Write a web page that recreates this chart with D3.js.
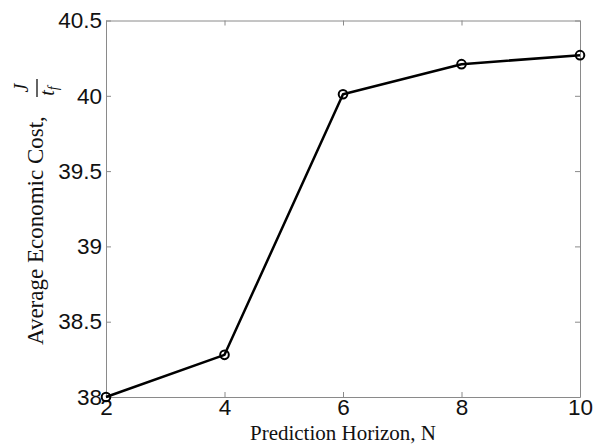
<!DOCTYPE html>
<html>
<head>
<meta charset="utf-8">
<script src="https://cdn.jsdelivr.net/npm/d3@7"></script>
<style>
  body { margin: 0; background: #fff; }
  svg { display: block; }
</style>
</head>
<body>
<svg id="chart" width="595" height="444"></svg>
<script>
// prediction horizon vs average economic cost
const horizon = [2, 4, 6, 8, 10];
const avgCost = [38.0, 38.28, 40.01, 40.21, 40.27];
const xTicks = [2, 4, 6, 8, 10];
const yTicks = [38, 38.5, 39, 39.5, 40, 40.5];

const svg = d3.select("#chart");
const width = 595;
const height = 444;
const margin = { top: 20.5, right: 15, bottom: 47, left: 106 };

const x = d3.scaleLinear().domain([2, 10]).range([margin.left, width - margin.right]);
const y = d3.scaleLinear().domain([38, 40.5]).range([height - margin.bottom, margin.top]);

const AXIS_GREY = "#8a8a8a";
const serif = "'Liberation Serif', 'Times New Roman', serif";

function styleAxis(g) {
  g.attr("font-family", null);
  g.select(".domain").attr("stroke", AXIS_GREY).attr("stroke-width", 1);
  g.selectAll(".tick line").attr("stroke", AXIS_GREY).attr("stroke-width", 1);
  g.selectAll(".tick text")
    .attr("fill", "#111")
    .style("font-family", "'Liberation Sans', Arial, sans-serif")
    .style("font-size", "22.5px");
}

// bottom + left with labels, top + right only ticks (matlab box)
svg.append("g")
  .attr("transform", `translate(0,${y(38)})`)
  .call(d3.axisBottom(x).tickValues(xTicks).tickSizeInner(-5).tickSizeOuter(0).tickPadding(2.5))
  .call(styleAxis);

svg.append("g")
  .attr("transform", `translate(${x(2)},0)`)
  .call(d3.axisLeft(y).tickValues(yTicks).tickFormat((d) => String(d)).tickSizeInner(-5).tickSizeOuter(0).tickPadding(4))
  .call(styleAxis);

svg.append("g")
  .attr("transform", `translate(0,${y(40.5)})`)
  .call(d3.axisTop(x).tickValues(xTicks).tickFormat("").tickSizeInner(-5).tickSizeOuter(0))
  .call(styleAxis);

svg.append("g")
  .attr("transform", `translate(${x(10)},0)`)
  .call(d3.axisRight(y).tickValues(yTicks).tickFormat("").tickSizeInner(-5).tickSizeOuter(0))
  .call(styleAxis);

const pts = horizon.map((h, i) => ({ h: h, c: avgCost[i] }));

const line = d3.line().x((d) => x(d.h)).y((d) => y(d.c));

svg.append("path")
  .datum(pts)
  .attr("d", line)
  .attr("fill", "none")
  .attr("stroke", "#000")
  .attr("stroke-width", 2.5)
  .attr("stroke-linejoin", "round");

svg.selectAll("circle.pt")
  .data(pts)
  .enter()
  .append("circle")
  .attr("class", "pt")
  .attr("cx", (d) => x(d.h))
  .attr("cy", (d) => y(d.c))
  .attr("r", 4.3)
  .attr("fill", "none")
  .attr("stroke", "#000")
  .attr("stroke-width", 2);

// x label
svg.append("text")
  .attr("x", (x(2) + x(10)) / 2)
  .attr("y", 439.5)
  .attr("text-anchor", "middle")
  .style("font-family", serif)
  .style("font-size", "21px")
  .attr("fill", "#111")
  .text("Prediction Horizon, N");

// y label with the J / t_f fraction
const yl = svg.append("g").attr("transform", "translate(43,0) rotate(-90)");

yl.append("text")
  .attr("x", -345)
  .attr("y", 0)
  .style("font-family", serif)
  .style("font-size", "23px")
  .attr("fill", "#111")
  .text("Average Economic Cost,");

yl.append("line")
  .attr("x1", -97)
  .attr("x2", -79)
  .attr("y1", -6)
  .attr("y2", -6)
  .attr("stroke", "#111")
  .attr("stroke-width", 1.3);

yl.append("text")
  .attr("x", -88)
  .attr("y", -15)
  .attr("text-anchor", "middle")
  .style("font-family", serif)
  .style("font-style", "italic")
  .style("font-size", "20px")
  .attr("fill", "#111")
  .text("J");

const den = yl.append("text")
  .attr("x", -91)
  .attr("y", 11)
  .attr("text-anchor", "middle")
  .style("font-family", serif)
  .style("font-style", "italic")
  .style("font-size", "20px")
  .attr("fill", "#111");
den.append("tspan").text("t");
den.append("tspan").attr("dy", 4).style("font-size", "14px").text("f");
</script>
</body>
</html>
